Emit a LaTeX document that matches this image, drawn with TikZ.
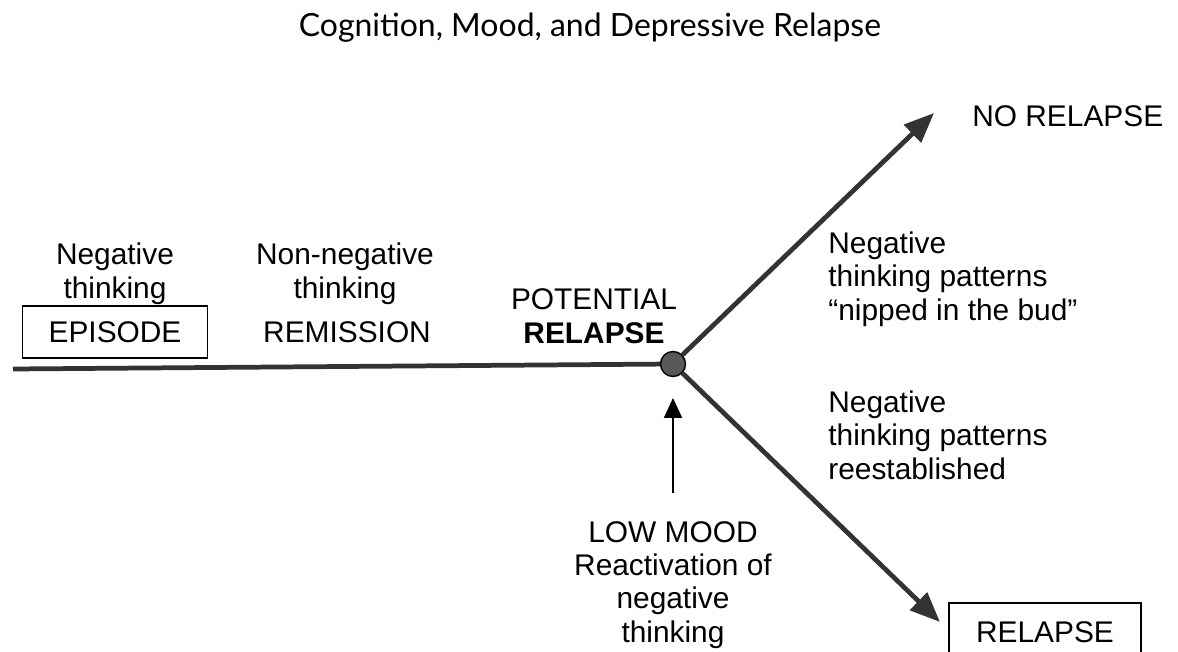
\documentclass[tikz,border=0pt]{standalone}
\usepackage{fontspec}
\setmainfont{Liberation Sans}
\newfontfamily\titlefont{Lato}
\usetikzlibrary{arrows.meta}

\begin{document}
\begin{tikzpicture}[x=0.02cm,y=-0.02cm,
    txt/.style={font=\fontsize{17}{18.8}\selectfont,align=center,anchor=base,inner sep=0},
    sidetxt/.style={txt,align=left,anchor=base west},
    stagebox/.style={draw,line width=1pt,inner sep=0,minimum height=1.03cm,font=\fontsize{17}{18.8}\selectfont},
    dot/.style={draw,circle,fill=black!65,line width=0.8pt,minimum size=0.5cm,inner sep=0},
    track/.style={line width=2.7pt,black!80},
    branch/.style={track,-{Triangle[length=0.6cm,width=0.48cm]}},
    push/.style={line width=1.2pt,-{Triangle[length=0.4cm,width=0.36cm]}},
]
    \useasboundingbox (0,0) rectangle (1178,652);

    \node [anchor=base,inner sep=0,font=\titlefont\fontsize{18.2}{22}\selectfont] (title) at (590,37) {Cognition, Mood, and Depressive Relapse};

    % time line
    \node [dot] (choice) at (673,364) {};
    \coordinate (start) at (13,369);
    \draw [track] (start) -- (choice);

    % multi-line nodes sit on their last baseline
    \node [stagebox,minimum width=3.7cm] (episode) at (115,332) {EPISODE};
    \node [txt] (negthink) at (115,298) {Negative\\thinking};
    \node [txt] (nonneg) at (345,298) {Non-negative\\thinking};
    \node [txt] (remission) at (347,342) {REMISSION};
    \node [txt] (potential) at (594,343) {POTENTIAL\\\textbf{RELAPSE}};

    % branches
    \path (choice) ++(261,-251) coordinate (uptip);
    \path (choice) ++(267,258) coordinate (downtip);
    \draw [branch] (choice) -- (uptip);
    \draw [branch] (choice) -- (downtip);

    \node [txt,anchor=base west] (norelapse) at (972,127) {NO RELAPSE};
    \node [sidetxt] (nipped) at (828,320) {Negative\\thinking patterns\\``nipped in the bud''};
    \node [sidetxt] (reest) at (828,479) {Negative\\thinking patterns\\reestablished};
    \node [stagebox,minimum width=3.84cm,minimum height=1.16cm] (relapse) at (1045,632) {RELAPSE};

    % low mood
    \node [txt] (lowmood) at (673,642) {LOW MOOD\\Reactivation of\\negative\\thinking};
    \path (choice) ++(0,129) coordinate (moodtail);
    \draw [push] (moodtail) -- (choice.south |- 0,398);
\end{tikzpicture}
\end{document}
